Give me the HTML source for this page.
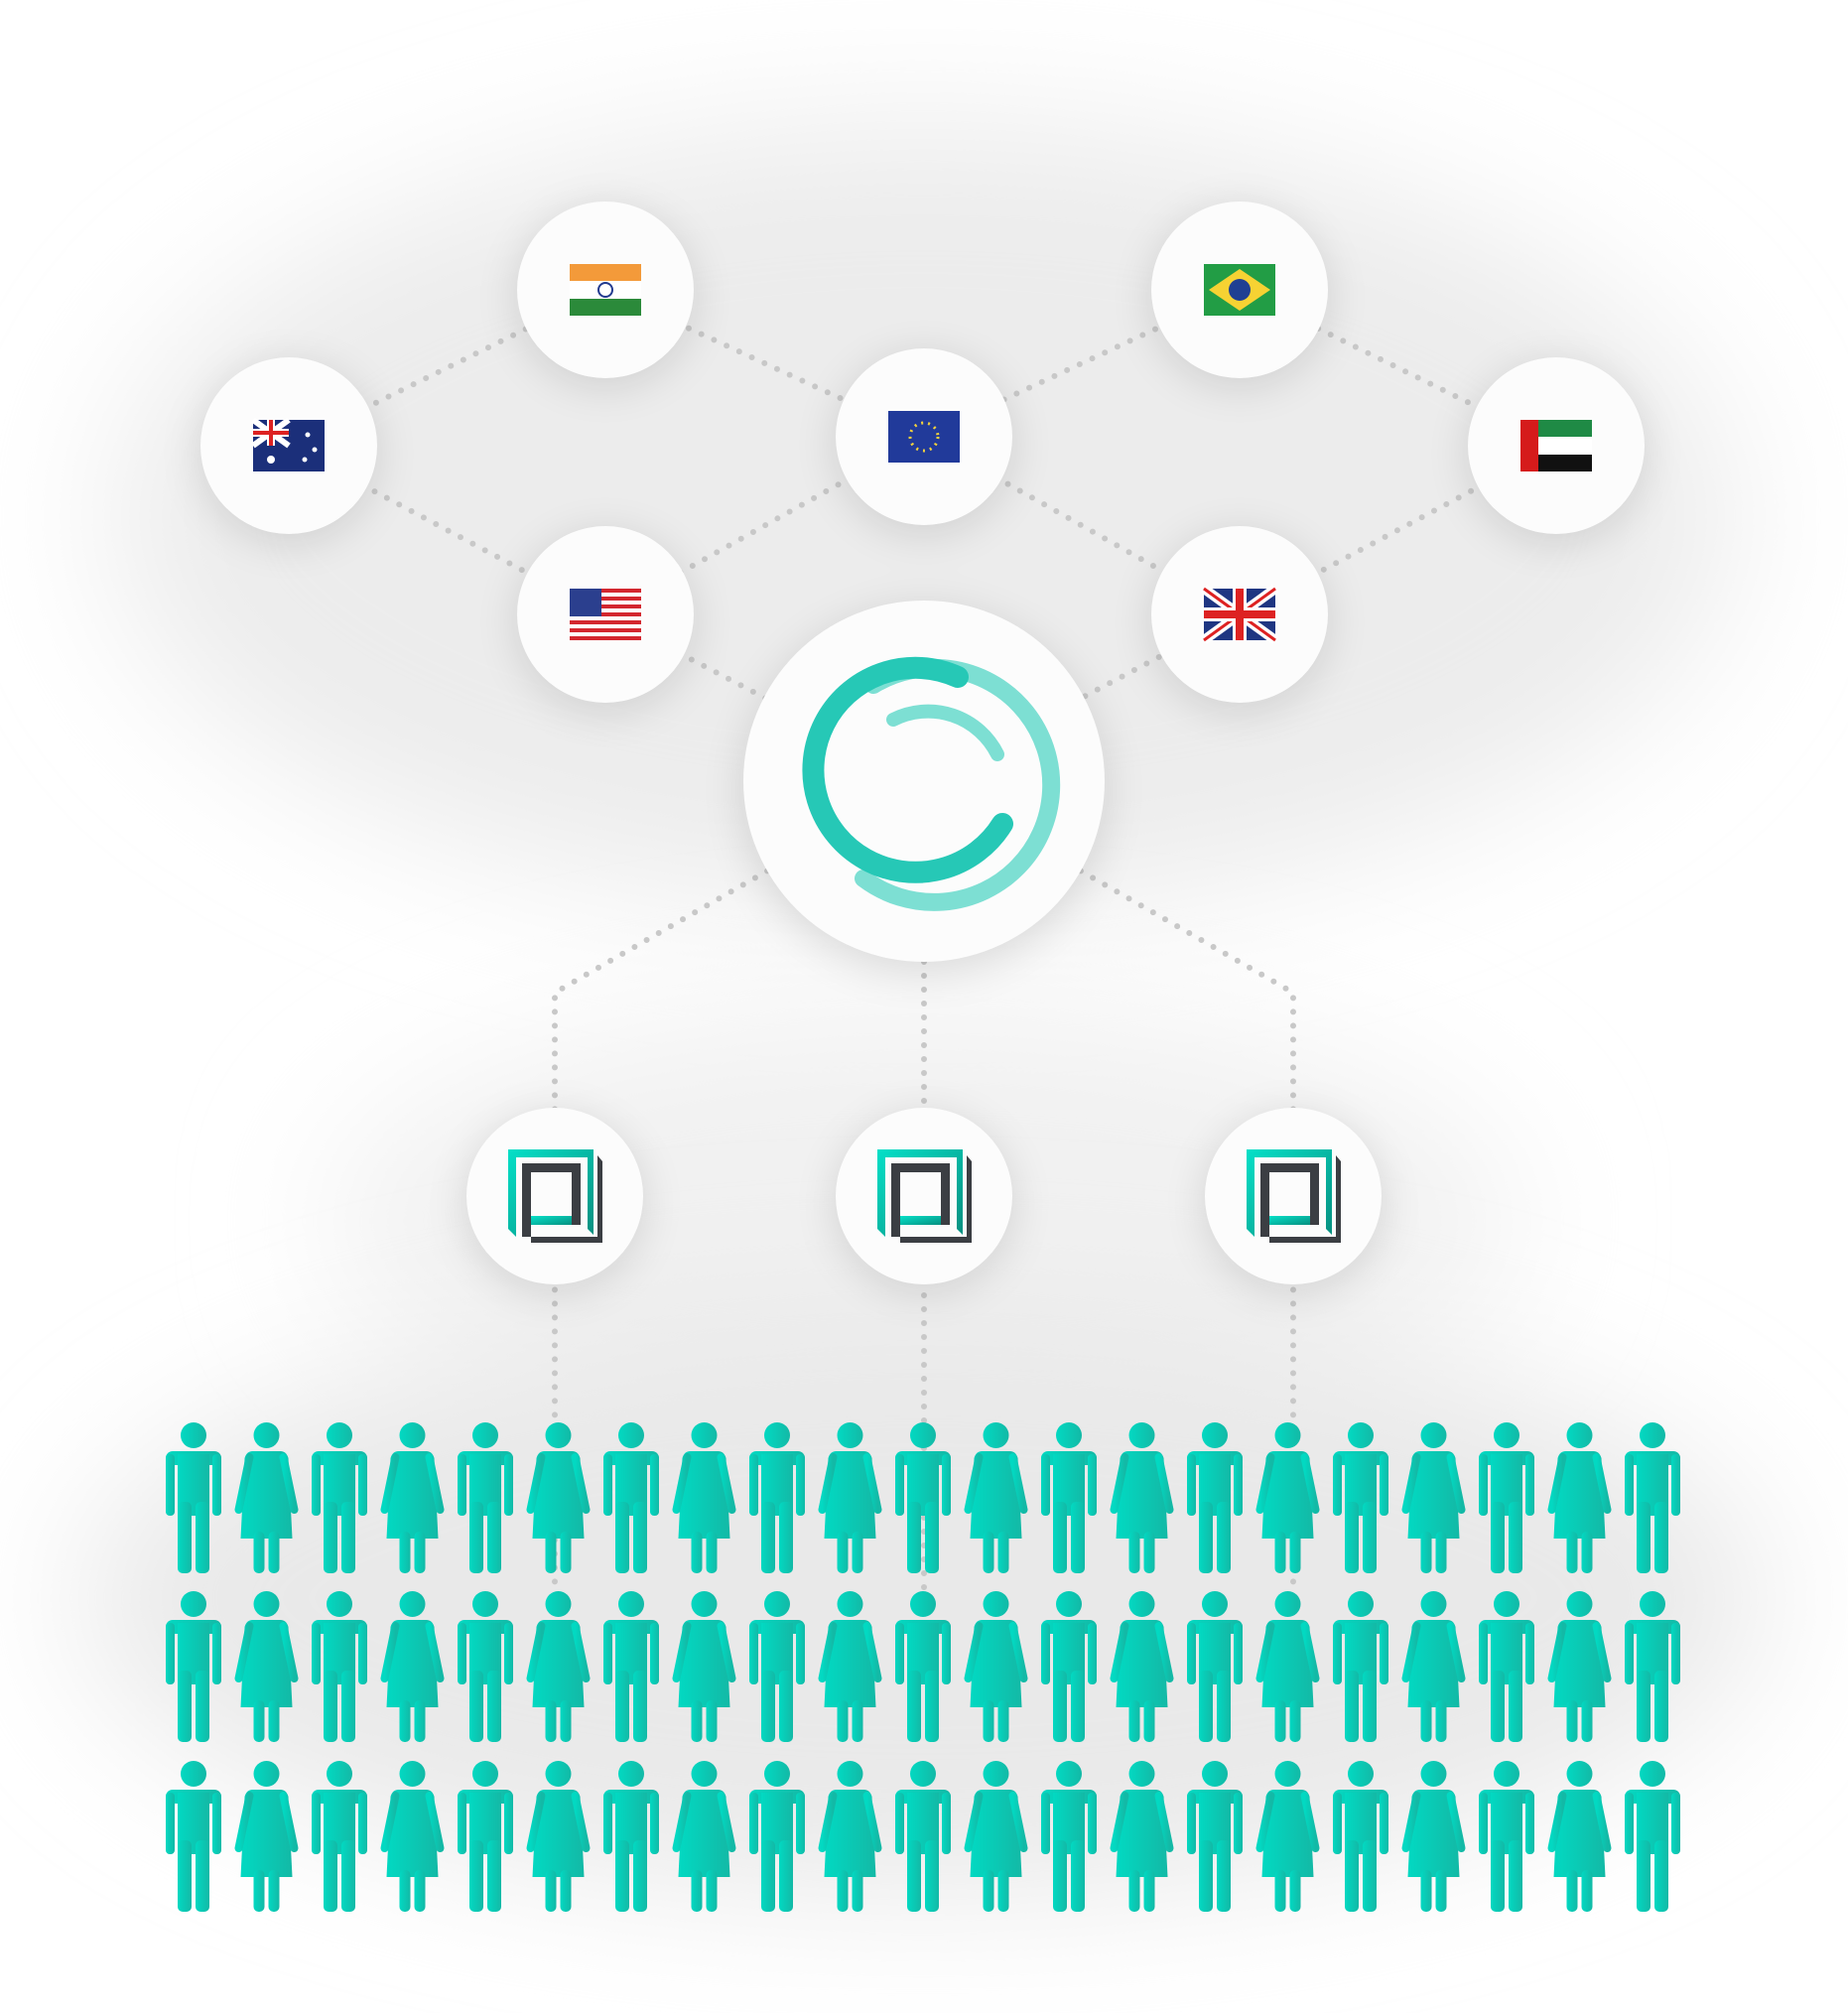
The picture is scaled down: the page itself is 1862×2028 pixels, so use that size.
<!DOCTYPE html>
<html><head><meta charset="utf-8"><style>html,body{margin:0;padding:0;background:#fff}svg{display:block}</style></head>
<body>
<svg width="1862" height="2028" viewBox="0 0 1862 2028" xmlns="http://www.w3.org/2000/svg">
<defs>
<filter id="bl" x="-50%" y="-50%" width="200%" height="200%"><feGaussianBlur stdDeviation="70"/></filter>
<filter id="sh" x="-50%" y="-50%" width="200%" height="200%"><feGaussianBlur stdDeviation="22"/></filter>
<linearGradient id="tg" x1="0" x2="1" y1="0" y2="0"><stop offset="0" stop-color="#02d9c2"/><stop offset="1" stop-color="#13b9a6"/></linearGradient>
<linearGradient id="sq" x1="0" x2="1" y1="0" y2="1"><stop offset="0" stop-color="#05e0c8"/><stop offset="1" stop-color="#078f80"/></linearGradient>
<g id="man"><circle cx="0" cy="13" r="13"/><rect x="-28" y="29" width="56" height="14" rx="7"/><rect x="-28" y="32" width="9" height="62" rx="4"/><rect x="19" y="32" width="9" height="62" rx="4"/><rect x="-16" y="32" width="32" height="62"/><rect x="-16" y="80" width="14" height="72" rx="5"/><rect x="2" y="80" width="14" height="72" rx="5"/></g>
<g id="woman"><circle cx="0" cy="13" r="13"/><path d="M-14 29 H14 Q20 29 22 36 L26 117 H-26 L-22 36 Q-20 29 -14 29Z"/><path d="M-17 35 L-28 88" stroke-width="8" stroke-linecap="round" stroke="url(#tg)"/><path d="M17 35 L28 88" stroke-width="8" stroke-linecap="round" stroke="url(#tg)"/><rect x="-13" y="110" width="11" height="42" rx="5"/><rect x="2" y="110" width="11" height="42" rx="5"/></g>
<g id="sqi"><path d="M-47 -47 H39 V39 L33 33 V-39 H-39 V41 L-47 33Z" fill="url(#sq)"/><path d="M-33 -33 H26 V29 H-11 V20 H17 V-24 H-24 V47 H48 V-35 L43 -41 V41 H-33Z" fill="#3b3e43"/><path d="M-24 20 H17 V29 H-24Z" fill="url(#sq)"/></g>
<g id="row">
<use href="#man" x="195"/><use href="#woman" x="268.5"/><use href="#man" x="342"/><use href="#woman" x="415.5"/><use href="#man" x="489"/><use href="#woman" x="562.5"/><use href="#man" x="636"/><use href="#woman" x="709.5"/><use href="#man" x="783"/><use href="#woman" x="856.5"/><use href="#man" x="930"/><use href="#woman" x="1003.5"/><use href="#man" x="1077"/><use href="#woman" x="1150.5"/><use href="#man" x="1224"/><use href="#woman" x="1297.5"/><use href="#man" x="1371"/><use href="#woman" x="1444.5"/><use href="#man" x="1518"/><use href="#woman" x="1591.5"/><use href="#man" x="1665"/>
</g>
</defs>
<rect width="1862" height="2028" fill="#fff"/>
<ellipse cx="930" cy="520" rx="820" ry="400" fill="#ececec" filter="url(#bl)"/>
<ellipse cx="930" cy="1230" rx="600" ry="220" fill="#f1f1f1" filter="url(#bl)"/>
<ellipse cx="930" cy="1610" rx="850" ry="300" fill="#e9e9e9" filter="url(#bl)"/>
<g stroke="#c8c8c8" stroke-width="6" stroke-linecap="round" stroke-dasharray="0 14" fill="none">
<path d="M291 449 L610 292 L931 440 L1249 292 L1568 449"/>
<path d="M291 449 L610 619 L931 440 L1249 619 L1568 449"/>
<path d="M610 619 L931 787 L1249 619"/>
<path d="M931 787 L559 1000 V1600"/>
<path d="M931 787 V1600"/>
<path d="M931 787 L1303 1000 V1600"/>
</g>
<g fill="#000" opacity="0.12" filter="url(#sh)">
<circle cx="610" cy="300" r="89"/><circle cx="1249" cy="300" r="89"/><circle cx="291" cy="457" r="89"/><circle cx="931" cy="448" r="89"/><circle cx="1568" cy="457" r="89"/><circle cx="610" cy="627" r="89"/><circle cx="1249" cy="627" r="89"/><circle cx="931" cy="797" r="182"/><circle cx="559" cy="1213" r="89"/><circle cx="931" cy="1213" r="89"/><circle cx="1303" cy="1213" r="89"/>
</g>
<g fill="#fcfcfc">
<circle cx="610" cy="292" r="89"/><circle cx="1249" cy="292" r="89"/><circle cx="291" cy="449" r="89"/><circle cx="931" cy="440" r="89"/><circle cx="1568" cy="449" r="89"/><circle cx="610" cy="619" r="89"/><circle cx="1249" cy="619" r="89"/><circle cx="931" cy="787" r="182"/><circle cx="559" cy="1205" r="89"/><circle cx="931" cy="1205" r="89"/><circle cx="1303" cy="1205" r="89"/>
</g>
<g transform="translate(574,266)"><rect width="72" height="17" fill="#f39a3a"/><rect y="17" width="72" height="18" fill="#fff"/><rect y="35" width="72" height="17" fill="#2b8a3a"/><circle cx="36" cy="26" r="7" fill="none" stroke="#223a8f" stroke-width="2"/></g>
<g transform="translate(1213,266)"><rect width="72" height="52" fill="#229d45"/><path d="M36 5 L67 26 L36 47 L5 26Z" fill="#f6d233"/><circle cx="36" cy="26" r="11" fill="#1f3f93"/></g>
<g transform="translate(255,423)"><rect width="72" height="52" fill="#1b2f7a"/><path d="M0 0 L36 26 M36 0 L0 26" stroke="#fff" stroke-width="6"/><path d="M18 0 V26 M0 13 H36" stroke="#fff" stroke-width="8"/><path d="M18 0 V26 M0 13 H36" stroke="#d22" stroke-width="4"/><circle cx="18" cy="40" r="4" fill="#fff"/><circle cx="55" cy="15" r="2.5" fill="#fff"/><circle cx="62" cy="30" r="2.5" fill="#fff"/><circle cx="52" cy="40" r="2.5" fill="#fff"/></g>
<g transform="translate(895,414)"><rect width="72" height="52" fill="#213a9a"/><circle cx="36" cy="26" r="14" fill="none" stroke="#f4d23c" stroke-width="3" stroke-dasharray="2 5"/></g>
<g transform="translate(1532,423)"><rect width="72" height="52" fill="#fff"/><rect x="18" width="54" height="17" fill="#1f8a45"/><rect x="18" y="35" width="54" height="17" fill="#111"/><rect width="18" height="52" fill="#d51b1b"/></g>
<g transform="translate(574,593)"><rect width="72" height="52" fill="#fff"/><g fill="#d3272f"><rect y="0" width="72" height="4"/><rect y="8" width="72" height="4"/><rect y="16" width="72" height="4"/><rect y="24" width="72" height="4"/><rect y="32" width="72" height="4"/><rect y="40" width="72" height="4"/><rect y="48" width="72" height="4"/></g><rect width="32" height="28" fill="#2b3f8e"/></g>
<g transform="translate(1213,593)"><rect width="72" height="52" fill="#1f3682"/><path d="M0 0 L72 52 M72 0 L0 52" stroke="#fff" stroke-width="10"/><path d="M0 0 L72 52 M72 0 L0 52" stroke="#d22" stroke-width="3"/><path d="M36 0 V52 M0 26 H72" stroke="#fff" stroke-width="14"/><path d="M36 0 V52 M0 26 H72" stroke="#d22" stroke-width="8"/></g>
<g fill="none" stroke-linecap="round">
<path d="M880 690 A118 118 0 1 1 870 885" stroke="#7ddfd3" stroke-width="18"/>
<path d="M965 682 A103 103 0 1 0 1010 830" stroke="#26c8b6" stroke-width="22"/>
<path d="M900 725 A78 78 0 0 1 1005 760" stroke="#7ddfd3" stroke-width="14"/>
</g>
<use href="#sqi" x="559" y="1205"/><use href="#sqi" x="931" y="1205"/><use href="#sqi" x="1303" y="1205"/>
<g fill="url(#tg)">
<use href="#row" y="1433"/><use href="#row" y="1603"/><use href="#row" y="1774"/>
</g>
</svg>
</body></html>
